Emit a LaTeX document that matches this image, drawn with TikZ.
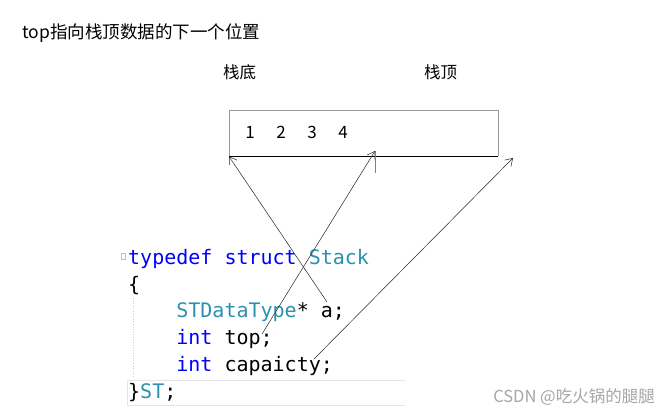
\documentclass[tikz,border=0pt]{standalone}
\usepackage{fontspec}
\setmainfont{Noto Sans CJK SC}
\newfontfamily\cjk{Noto Sans CJK SC}
\newfontfamily\codefont{DejaVu Sans Mono}
\usetikzlibrary{arrows.meta}
\definecolor{kw}{RGB}{0,0,255}
\definecolor{ty}{RGB}{43,145,175}
\definecolor{hl}{RGB}{228,228,236}
\tikzset{
  lbl/.style={inner sep=0pt, anchor=base west, font=\cjk\fontsize{16.5}{18}\selectfont},
  num/.style={inner sep=0pt, anchor=base, font=\cjk\fontsize{17}{19}\selectfont},
  code/.style={inner sep=0pt, anchor=base west, font=\codefont\fontsize{20}{22}\selectfont},
  ptr/.style={line width=0.5pt, black!85, -{Straight Barb[length=7pt,width=9pt,line width=0.5pt]}},
}
\begin{document}
\begin{tikzpicture}[x=1pt,y=-1pt]
\useasboundingbox[fill=white] (0,0) rectangle (670,419);
% title and labels
\node[lbl, font=\cjk\fontsize{17.5}{19}\selectfont] (title) at (22,39) {top指向栈顶数据的下一个位置};
\node[lbl] (bottomlbl) at (223,79) {栈底};
\node[lbl] (toplbl) at (424,79) {栈顶};
% stack box
\node[minimum width=269pt, minimum height=46pt, inner sep=0pt, anchor=north west] (box) at (229,110) {};
\draw[gray!80, line width=0.6pt] (box.south west) -- (box.north west) -- (box.north east) -- (box.south east);
\draw[black, line width=0.8pt] (box.south west) -- (box.south east);
\node[num] (n1) at (250,139) {1};
\node[num] (n2) at (281,139) {2};
\node[num] (n3) at (312,139) {3};
\node[num] (n4) at (343,139) {4};
% code
\draw[hl, line width=0.8pt] (405,380) -- (127,380) -- (127,405) -- (405,405);
\draw[gray!50, line width=0.3pt] (121.5,253) rectangle (125.5,259);
\draw[gray!40, dotted, line width=0.6pt] (133,298) -- (133,377);
\node[code] (l1) at (128,265) {\textcolor{kw}{typedef struct} \textcolor{ty}{Stack}};
\node[code] (l2) at (128,292) {\{};
\node[code] (l3) at (128,318) {\phantom{xxxx}\textcolor{ty}{STDataType}* a;};
\node[code] (l4) at (128,345) {\phantom{xxxx}\textcolor{kw}{int} top;};
\node[code] (l5) at (128,372) {\phantom{xxxx}\textcolor{kw}{int} capaicty;};
\node[code] (l6) at (128,399) {\}\textcolor{ty}{ST};};
% pointers
\coordinate (pa) at (327,302);
\coordinate (ptop) at (262,334);
\coordinate (pcap) at (314,359);
\coordinate (t2) at (375,151);
\coordinate (t3) at (513,158);
\coordinate (tick) at (375,173);
\draw[ptr] (pa) -- (box.south west);
\draw[ptr] (ptop) -- (t2);
\draw[gray, line width=0.6pt] (t2) -- (tick);
\draw[ptr] (pcap) -- (t3);
% watermark
\node[inner sep=0pt, anchor=base east, text=gray!70, font=\cjk\fontsize{16.5}{18}\selectfont] (wm) at (655,403) {CSDN @吃火锅的腿腿};
\end{tikzpicture}
\end{document}
